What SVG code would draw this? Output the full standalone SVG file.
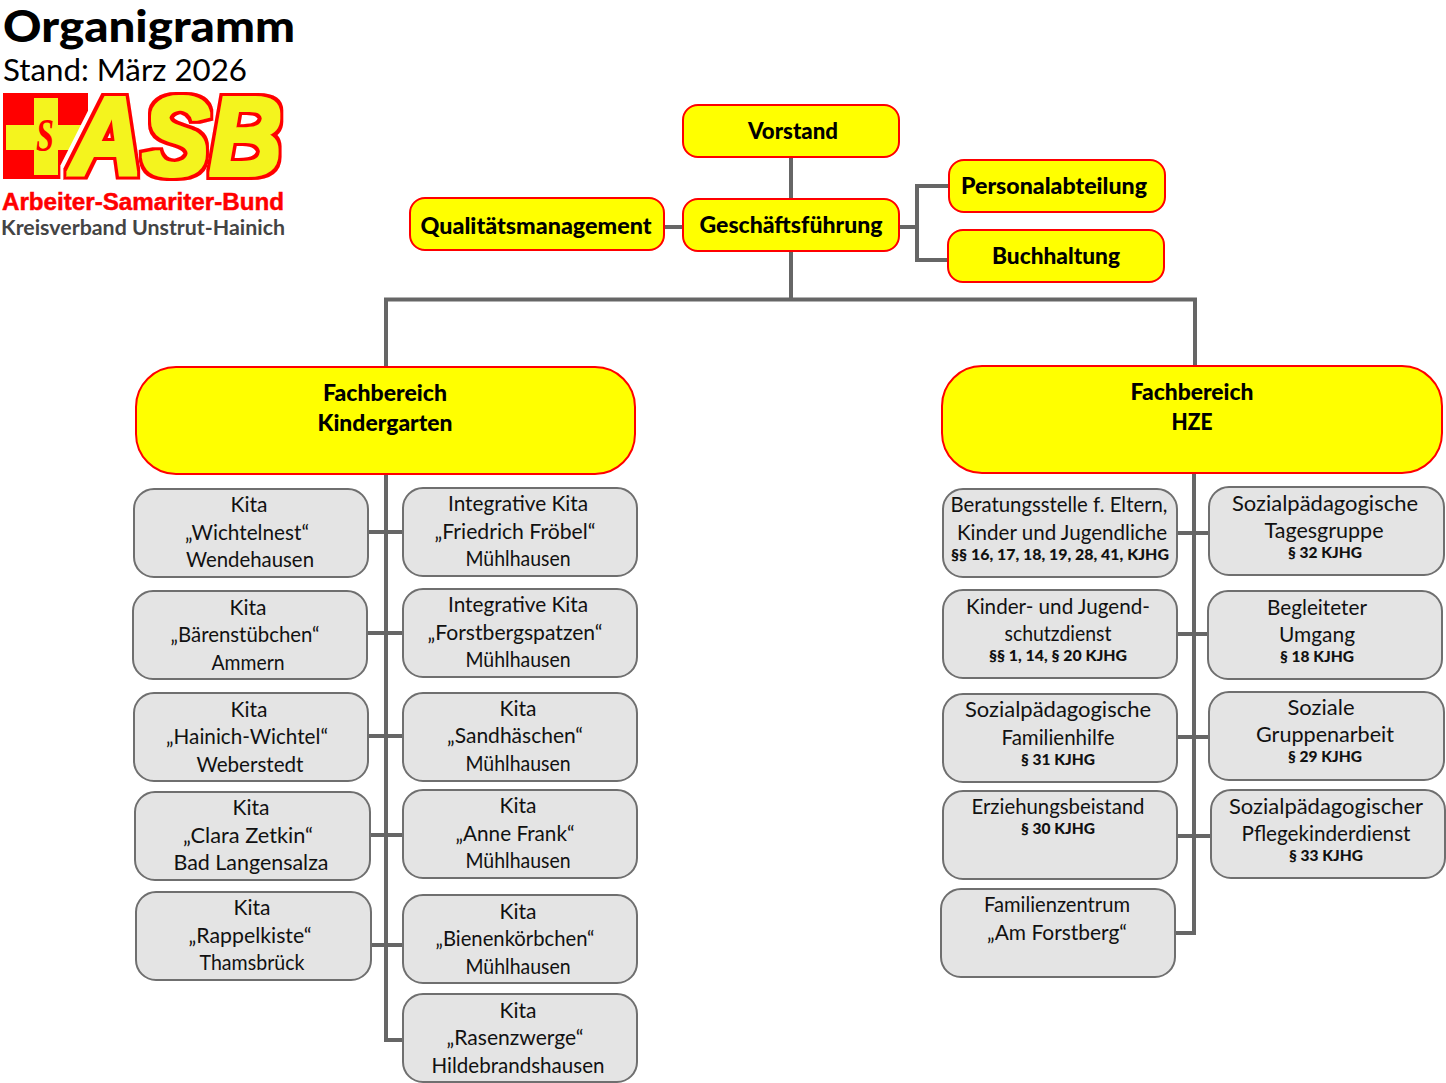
<svg xmlns="http://www.w3.org/2000/svg" width="1446" height="1083" viewBox="0 0 1446 1083">
<style>
text{font-family:Lato,"Open Sans","Liberation Sans",sans-serif;fill:#111}
.y rect{fill:#ff0;stroke:#f00;stroke-width:2}
.y text{font-weight:900;font-size:22px;text-anchor:middle;fill:#000}
.g rect{fill:#e4e4e4;stroke:#6f6f6f;stroke-width:2}
.g text{font-size:21px;text-anchor:middle}
.g text.s{font-size:15px;font-weight:900}
.k{fill:none;stroke:#666;stroke-width:4}
</style>
<defs>
<filter id="outline" x="-8%" y="-10%" width="116%" height="120%" color-interpolation-filters="sRGB">
<feMorphology in="SourceAlpha" operator="dilate" radius="8" result="w0"/>
<feFlood flood-color="#fff"/>
<feComposite in2="w0" operator="in" result="w"/>
<feMorphology in="SourceAlpha" operator="dilate" radius="5" result="o"/>
<feFlood flood-color="#f00"/>
<feComposite in2="o" operator="in" result="r"/>
<feMorphology in="SourceGraphic" operator="dilate" radius="1.5" result="f"/>
<feMerge><feMergeNode in="w"/><feMergeNode in="r"/><feMergeNode in="f"/></feMerge>
</filter>
</defs>
<g id="header">
<text x="3" y="42" font-size="44" font-weight="900" textLength="292" lengthAdjust="spacingAndGlyphs" style="fill:#000">Organigramm</text>
<text x="3" y="81" font-size="31" textLength="244" lengthAdjust="spacingAndGlyphs" style="fill:#000">Stand: März 2026</text>
</g>
<g id="logo">
<rect x="3" y="93" width="85" height="86" fill="#f00"/>
<path d="M34 98h24v27h26v25H58v25H34v-25H6v-25h28z" fill="#f4f41e"/>
<text x="45" y="151" font-size="46" font-weight="700" font-style="italic" text-anchor="middle" textLength="18" lengthAdjust="spacingAndGlyphs" style="font-family:'Liberation Serif',serif;fill:#f00">S</text>
<text x="70" y="175" font-size="112" font-weight="700" font-style="italic" textLength="212" lengthAdjust="spacingAndGlyphs" filter="url(#outline)" style="font-family:'Liberation Sans',sans-serif;fill:#f4f41e">ASB</text>
<text x="2" y="210" font-size="24" font-weight="700" textLength="282" lengthAdjust="spacingAndGlyphs" style="font-family:'Liberation Sans',sans-serif;fill:#f00;stroke:#f00;stroke-width:.5">Arbeiter-Samariter-Bund</text>
<text x="1" y="235" font-size="21" font-weight="700" textLength="284" lengthAdjust="spacingAndGlyphs" style="fill:#444">Kreisverband Unstrut-Hainich</text>
</g>
<g id="connectors" class="k">
<path d="M791 157V299.5M386 367V299.5H1195V366M665 227H683M899 227H917M949 186H917V260H948"/>
<path d="M386 474V1040H403M368 532H403M367 633H403M368 736H403M370 835H403M371 945H403"/>
<path d="M1194 473V933H1175M1177 533H1209M1177 634H1208M1177 737H1209M1177 836H1211"/>
</g>
<g id="vorstand" class="y"><rect x="683" y="105" width="216" height="52" rx="15"/><text x="793" y="139" textLength="90" lengthAdjust="spacingAndGlyphs">Vorstand</text></g>
<g id="geschaeftsfuehrung" class="y"><rect x="683" y="199" width="216" height="52" rx="15"/><text x="791" y="233" textLength="183" lengthAdjust="spacingAndGlyphs">Geschäftsführung</text></g>
<g id="qualitaetsmanagement" class="y"><rect x="410" y="198" width="254" height="52" rx="15"/><text x="536" y="234" textLength="231" lengthAdjust="spacingAndGlyphs">Qualitätsmanagement</text></g>
<g id="personalabteilung" class="y"><rect x="949" y="160" width="216" height="52" rx="15"/><text x="1054" y="194" textLength="186" lengthAdjust="spacingAndGlyphs">Personalabteilung</text></g>
<g id="buchhaltung" class="y"><rect x="948" y="230" width="216" height="52" rx="15"/><text x="1056" y="264" textLength="128" lengthAdjust="spacingAndGlyphs">Buchhaltung</text></g>
<g id="fb-kindergarten" class="y"><rect x="136" y="367" width="499" height="107" rx="40"/><text x="385" y="401" textLength="124" lengthAdjust="spacingAndGlyphs">Fachbereich</text><text x="385" y="431" textLength="135" lengthAdjust="spacingAndGlyphs">Kindergarten</text></g>
<g id="fb-hze" class="y"><rect x="942" y="366" width="500" height="107" rx="40"/><text x="1192" y="400" textLength="123" lengthAdjust="spacingAndGlyphs">Fachbereich</text><text x="1192" y="430" textLength="41" lengthAdjust="spacingAndGlyphs">HZE</text></g>

<g id="kita-wichtelnest" class="g"><rect x="134" y="489" width="234" height="88" rx="20"/><text x="249" y="512">Kita</text><text x="247" y="540" textLength="124" lengthAdjust="spacingAndGlyphs">„Wichtelnest“</text><text x="250" y="567" textLength="128" lengthAdjust="spacingAndGlyphs">Wendehausen</text></g>
<g id="kita-baerenstuebchen" class="g"><rect x="133" y="591" width="234" height="88" rx="20"/><text x="248" y="615">Kita</text><text x="245" y="642" textLength="149" lengthAdjust="spacingAndGlyphs">„Bärenstübchen“</text><text x="248" y="670" textLength="73" lengthAdjust="spacingAndGlyphs">Ammern</text></g>
<g id="kita-hainich" class="g"><rect x="134" y="693" width="234" height="88" rx="20"/><text x="249" y="717">Kita</text><text x="247" y="744" textLength="162" lengthAdjust="spacingAndGlyphs">„Hainich-Wichtel“</text><text x="250" y="772" textLength="107" lengthAdjust="spacingAndGlyphs">Weberstedt</text></g>
<g id="kita-zetkin" class="g"><rect x="135" y="792" width="235" height="88" rx="20"/><text x="251" y="815">Kita</text><text x="248" y="843" textLength="130" lengthAdjust="spacingAndGlyphs">„Clara Zetkin“</text><text x="251" y="870" textLength="155" lengthAdjust="spacingAndGlyphs">Bad Langensalza</text></g>
<g id="kita-rappelkiste" class="g"><rect x="136" y="892" width="235" height="88" rx="20"/><text x="252" y="915">Kita</text><text x="250" y="943" textLength="123" lengthAdjust="spacingAndGlyphs">„Rappelkiste“</text><text x="252" y="970" textLength="105" lengthAdjust="spacingAndGlyphs">Thamsbrück</text></g>

<g id="kita-froebel" class="g"><rect x="403" y="488" width="234" height="88" rx="20"/><text x="518" y="511" textLength="140" lengthAdjust="spacingAndGlyphs">Integrative Kita</text><text x="515" y="539" textLength="161" lengthAdjust="spacingAndGlyphs">„Friedrich Fröbel“</text><text x="518" y="566" textLength="105" lengthAdjust="spacingAndGlyphs">Mühlhausen</text></g>
<g id="kita-forstbergspatzen" class="g"><rect x="403" y="589" width="234" height="88" rx="20"/><text x="518" y="612" textLength="140" lengthAdjust="spacingAndGlyphs">Integrative Kita</text><text x="515" y="640" textLength="175" lengthAdjust="spacingAndGlyphs">„Forstbergspatzen“</text><text x="518" y="667" textLength="105" lengthAdjust="spacingAndGlyphs">Mühlhausen</text></g>
<g id="kita-sandhaeschen" class="g"><rect x="403" y="693" width="234" height="88" rx="20"/><text x="518" y="716">Kita</text><text x="515" y="743" textLength="136" lengthAdjust="spacingAndGlyphs">„Sandhäschen“</text><text x="518" y="771" textLength="105" lengthAdjust="spacingAndGlyphs">Mühlhausen</text></g>
<g id="kita-frank" class="g"><rect x="403" y="790" width="234" height="88" rx="20"/><text x="518" y="813">Kita</text><text x="515" y="841" textLength="119" lengthAdjust="spacingAndGlyphs">„Anne Frank“</text><text x="518" y="868" textLength="105" lengthAdjust="spacingAndGlyphs">Mühlhausen</text></g>
<g id="kita-bienenkoerbchen" class="g"><rect x="403" y="895" width="234" height="88" rx="20"/><text x="518" y="919">Kita</text><text x="515" y="946" textLength="159" lengthAdjust="spacingAndGlyphs">„Bienenkörbchen“</text><text x="518" y="974" textLength="105" lengthAdjust="spacingAndGlyphs">Mühlhausen</text></g>
<g id="kita-rasenzwerge" class="g"><rect x="403" y="994" width="234" height="88" rx="20"/><text x="518" y="1018">Kita</text><text x="515" y="1045" textLength="137" lengthAdjust="spacingAndGlyphs">„Rasenzwerge“</text><text x="518" y="1073" textLength="173" lengthAdjust="spacingAndGlyphs">Hildebrandshausen</text></g>

<g id="beratungsstelle" class="g"><rect x="943" y="489" width="234" height="88" rx="20"/><text x="1059" y="512" textLength="217" lengthAdjust="spacingAndGlyphs">Beratungsstelle f. Eltern,</text><text x="1062" y="540" textLength="210" lengthAdjust="spacingAndGlyphs">Kinder und Jugendliche</text><text class="s" x="1060" y="560" textLength="218" lengthAdjust="spacingAndGlyphs">§§ 16, 17, 18, 19, 28, 41, KJHG</text></g>
<g id="kinderschutz" class="g"><rect x="943" y="590" width="234" height="88" rx="20"/><text x="1058" y="614" textLength="184" lengthAdjust="spacingAndGlyphs">Kinder- und Jugend-</text><text x="1058" y="641" textLength="107" lengthAdjust="spacingAndGlyphs">schutzdienst</text><text class="s" x="1058" y="661" textLength="138" lengthAdjust="spacingAndGlyphs">§§ 1, 14, § 20 KJHG</text></g>
<g id="familienhilfe" class="g"><rect x="943" y="694" width="234" height="88" rx="20"/><text x="1058" y="717" textLength="186" lengthAdjust="spacingAndGlyphs">Sozialpädagogische</text><text x="1058" y="745" textLength="113" lengthAdjust="spacingAndGlyphs">Familienhilfe</text><text class="s" x="1058" y="765" textLength="74" lengthAdjust="spacingAndGlyphs">§ 31 KJHG</text></g>
<g id="erziehungsbeistand" class="g"><rect x="943" y="791" width="234" height="88" rx="20"/><text x="1058" y="814" textLength="173" lengthAdjust="spacingAndGlyphs">Erziehungsbeistand</text><text class="s" x="1058" y="834" textLength="74" lengthAdjust="spacingAndGlyphs">§ 30 KJHG</text></g>
<g id="familienzentrum" class="g"><rect x="941" y="889" width="234" height="88" rx="20"/><text x="1057" y="912" textLength="146" lengthAdjust="spacingAndGlyphs">Familienzentrum</text><text x="1057" y="940" textLength="140" lengthAdjust="spacingAndGlyphs">„Am Forstberg“</text></g>
<g id="tagesgruppe" class="g"><rect x="1209" y="487" width="235" height="88" rx="20"/><text x="1325" y="511" textLength="186" lengthAdjust="spacingAndGlyphs">Sozialpädagogische</text><text x="1324" y="538" textLength="119" lengthAdjust="spacingAndGlyphs">Tagesgruppe</text><text class="s" x="1325" y="558" textLength="74" lengthAdjust="spacingAndGlyphs">§ 32 KJHG</text></g>
<g id="umgang" class="g"><rect x="1208" y="591" width="234" height="88" rx="20"/><text x="1317" y="615" textLength="100" lengthAdjust="spacingAndGlyphs">Begleiteter</text><text x="1317" y="642" textLength="76" lengthAdjust="spacingAndGlyphs">Umgang</text><text class="s" x="1317" y="662" textLength="74" lengthAdjust="spacingAndGlyphs">§ 18 KJHG</text></g>
<g id="gruppenarbeit" class="g"><rect x="1209" y="692" width="235" height="88" rx="20"/><text x="1321" y="715" textLength="67" lengthAdjust="spacingAndGlyphs">Soziale</text><text x="1325" y="742" textLength="138" lengthAdjust="spacingAndGlyphs">Gruppenarbeit</text><text class="s" x="1325" y="762" textLength="74" lengthAdjust="spacingAndGlyphs">§ 29 KJHG</text></g>
<g id="pflegekinderdienst" class="g"><rect x="1211" y="790" width="234" height="88" rx="20"/><text x="1326" y="814" textLength="194" lengthAdjust="spacingAndGlyphs">Sozialpädagogischer</text><text x="1326" y="841" textLength="169" lengthAdjust="spacingAndGlyphs">Pflegekinderdienst</text><text class="s" x="1326" y="861" textLength="74" lengthAdjust="spacingAndGlyphs">§ 33 KJHG</text></g>
</svg>
